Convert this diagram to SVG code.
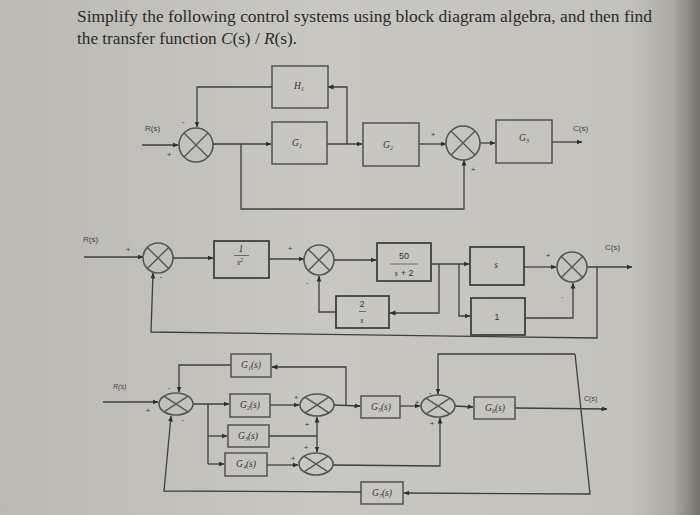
<svg xmlns="http://www.w3.org/2000/svg" width="700" height="515" viewBox="0 0 700 515">
<defs>
<linearGradient id="bg" x1="0" y1="0" x2="1" y2="0">
<stop offset="0" stop-color="#bbb9b4"/>
<stop offset="0.45" stop-color="#c9c7c2"/>
<stop offset="0.9" stop-color="#c4c2bd"/>
<stop offset="0.96" stop-color="#aba9a4"/>
<stop offset="1" stop-color="#76736f"/>
</linearGradient>
<marker id="ah" markerWidth="6" markerHeight="6" refX="5.5" refY="3" orient="auto" markerUnits="userSpaceOnUse">
<path d="M0,0.6 L6,3 L0,5.4 Z" fill="#2e2e2e"/>
</marker>
<style>
.ln{fill:none;stroke:#3e3e3e;stroke-width:1.3}
.ar{fill:none;stroke:#3e3e3e;stroke-width:1.3;marker-end:url(#ah)}
.bx{fill:none;stroke:#4a4a4a;stroke-width:1.4}
.bx2{fill:none;stroke:#404040;stroke-width:1.8}
.sm{fill:none;stroke:#555;stroke-width:1.6}
.sx{fill:none;stroke:#555;stroke-width:1.4}
.lb{font-family:"Liberation Sans",Arial,sans-serif;font-size:8px;fill:#404040}
.gl{font-family:"Liberation Serif","Times New Roman",serif;font-style:italic;font-size:9.5px;fill:#333;text-anchor:middle}
.nm{font-family:"Liberation Sans",Arial,sans-serif;font-size:9px;fill:#333;text-anchor:middle}
.sg{font-family:"Liberation Sans",Arial,sans-serif;font-size:8px;fill:#3a3a3a;text-anchor:middle}
.tt{font-family:"Liberation Serif","Times New Roman",serif;font-size:17px;fill:#2a2a2a}
</style>
</defs>
<rect x="0" y="0" width="700" height="515" fill="url(#bg)"/>

<g id="title">
<text class="tt" x="77" y="22" textLength="575" lengthAdjust="spacingAndGlyphs">Simplify the following control systems using block diagram algebra, and then find</text>
<text class="tt" x="77" y="44" textLength="220" lengthAdjust="spacingAndGlyphs">the transfer function <tspan font-style="italic">C</tspan>(s) / <tspan font-style="italic">R</tspan>(s).</text>
</g>

<!-- ===== Diagram 1 ===== -->
<g id="d1-connectors">
<path class="ar" d="M142,145 H178"/>
<path class="ar" d="M213,144 H271"/>
<path class="ar" d="M327,144 H362"/>
<path class="ar" d="M347,144 V87 H328"/>
<path class="ar" d="M272,87 H197 V127"/>
<path class="ar" d="M241,144 V209 H464 V160"/>
<path class="ar" d="M419,144 H446"/>
<path class="ar" d="M480,143 H495"/>
<path class="ar" d="M552,142 H582"/>
</g>
<g id="d1-sum1">
<circle class="sm" cx="196" cy="145" r="17"/>
<path class="sx" d="M184,133 L208,157 M184,157 L208,133"/>
<text class="sg" x="169" y="157">+</text>
<text class="sg" x="183" y="124">-</text>
</g>
<g id="d1-R"><text class="lb" x="145" y="131">R(s)</text></g>
<g id="d1-G1"><rect class="bx" x="272" y="122" width="55" height="42"/><text class="gl" x="297" y="146">G<tspan style="font-size:6px" dy="2">1</tspan></text></g>
<g id="d1-H1"><rect class="bx" x="272" y="66" width="56" height="42"/><text class="gl" x="299" y="89">H<tspan style="font-size:6px" dy="2">1</tspan></text></g>
<g id="d1-G2"><rect class="bx" x="363" y="123" width="56" height="43"/><text class="gl" x="388" y="148">G<tspan style="font-size:6px" dy="2">2</tspan></text></g>
<g id="d1-sum2">
<circle class="sm" cx="463" cy="143" r="17"/>
<path class="sx" d="M451,131 L475,155 M451,155 L475,131"/>
<text class="sg" x="433" y="137">+</text>
<text class="sg" x="473" y="172">+</text>
</g>
<g id="d1-G3"><rect class="bx" x="496" y="120" width="56" height="43"/><text class="gl" x="524" y="141">G<tspan style="font-size:6px" dy="2">3</tspan></text></g>
<g id="d1-C"><text class="lb" x="573" y="131">C(s)</text></g>

<!-- ===== Diagram 2 ===== -->
<g id="d2-connectors">
<path class="ar" d="M84,257 H143"/>
<path class="ar" d="M173,258 H213"/>
<path class="ar" d="M269,259 H304"/>
<path class="ar" d="M334,260 H376"/>
<path class="ar" d="M431,264 H469"/>
<path class="ar" d="M439,264 V313 H390"/>
<path class="ar" d="M336,312 H319 V276"/>
<path class="ar" d="M459,264 V316 H470"/>
<path class="ar" d="M524,267 H556"/>
<path class="ar" d="M525,318 H573 V283"/>
<path class="ar" d="M587,267 H632"/>
<path class="ar" d="M597,267 V338 L151,332 L153,273"/>
</g>
<g id="d2-R"><text class="lb" x="83" y="242">R(s)</text></g>
<g id="d2-sum1">
<circle class="sm" cx="158" cy="258" r="15"/>
<path class="sx" d="M147.4,247.4 L168.6,268.6 M147.4,268.6 L168.6,247.4"/>
<text class="sg" x="128" y="252">+</text>
<text class="sg" x="161" y="279">-</text>
</g>
<g id="d2-b1"><rect class="bx2" x="214" y="241" width="55" height="37"/>
<text class="gl" x="241" y="252" style="font-size:10px">1</text>
<path d="M234,255.5 H249" stroke="#555" stroke-width="0.8"/>
<text class="gl" x="240" y="265" style="font-size:8px">s<tspan style="font-size:6px" dy="-3">2</tspan></text></g>
<g id="d2-sum2">
<circle class="sm" cx="319" cy="260" r="15"/>
<path class="sx" d="M308.4,249.4 L329.6,270.6 M308.4,270.6 L329.6,249.4"/>
<text class="sg" x="290" y="251">+</text>
<text class="sg" x="307" y="285">-</text>
</g>
<g id="d2-b50"><rect class="bx2" x="377" y="243" width="54" height="38"/>
<text class="nm" x="404" y="259">50</text>
<path d="M390,264 H418" stroke="#555" stroke-width="0.8"/>
<text class="nm" x="404" y="276"><tspan style="font-style:italic;font-family:'Liberation Serif',serif">s</tspan> + 2</text></g>
<g id="d2-b2s"><rect class="bx2" x="336" y="296" width="53" height="32"/>
<text class="nm" x="362" y="307" style="font-size:8.5px">2</text>
<path d="M359,311.5 H366" stroke="#555" stroke-width="0.8"/>
<text class="gl" x="362" y="323" style="font-size:8.5px">s</text></g>
<g id="d2-bs"><rect class="bx2" x="470" y="247" width="54" height="38"/><text class="gl" x="496" y="268">s</text></g>
<g id="d2-b1b"><rect class="bx2" x="471" y="298" width="54" height="37"/><text class="nm" x="497" y="320">1</text></g>
<g id="d2-sum3">
<circle class="sm" cx="572" cy="267" r="15"/>
<path class="sx" d="M561.4,256.4 L582.6,277.6 M561.4,277.6 L582.6,256.4"/>
<text class="sg" x="548" y="258">+</text>
<text class="sg" x="562" y="299" style="fill:#777">-</text>
</g>
<g id="d2-C"><text class="lb" x="605" y="250">C(s)</text></g>

<!-- ===== Diagram 3 ===== -->
<g id="d3-connectors">
<path class="ar" d="M103,402 H158"/>
<path class="ar" d="M193,404 H229"/>
<path class="ln" d="M208,404 V464"/>
<path class="ar" d="M208,436 H227"/>
<path class="ar" d="M208,464 H224"/>
<path class="ar" d="M270,405 H299"/>
<path class="ln" d="M269,436 H317"/>
<path class="ar" d="M317,436 V417"/>
<path class="ar" d="M317,436 V452"/>
<path class="ar" d="M267,465 H298"/>
<path class="ar" d="M333,465 L440,466 V418"/>
<path class="ar" d="M334,405 L360,406"/>
<path class="ar" d="M346,405 V367 H272"/>
<path class="ar" d="M231,365 H179 V392"/>
<path class="ar" d="M400,406 H420"/>
<path class="ar" d="M455,406 L473,407"/>
<path class="ar" d="M515,408 L607,409"/>
<path class="ar" d="M575,354 H438 V394"/>
<path class="ar" d="M575,354 L590,494 L404,493"/>
<path class="ar" d="M361,492 L164,491 L171,416"/>
</g>
<g id="d3-R"><text class="lb" x="113" y="389" style="font-size:7px;font-style:italic">R(s)</text></g>
<g id="d3-sum1">
<ellipse class="sm" cx="176" cy="404" rx="17" ry="11"/>
<path class="sx" d="M164,396.2 L188,411.8 M164,411.8 L188,396.2"/>
<text class="sg" x="148" y="413">+</text>
<text class="sg" x="169" y="390">-</text>
<text class="sg" x="183" y="422">-</text>
</g>
<g id="d3-G1"><rect class="bx" x="231" y="354" width="40" height="23"/><text class="gl" x="251" y="368">G<tspan style="font-size:6px" dy="2">1</tspan><tspan dy="-2">(s)</tspan></text></g>
<g id="d3-G2"><rect class="bx" x="230" y="394" width="40" height="23"/><text class="gl" x="250" y="408">G<tspan style="font-size:6px" dy="2">2</tspan><tspan dy="-2">(s)</tspan></text></g>
<g id="d3-G3"><rect class="bx" x="228" y="425" width="41" height="22"/><text class="gl" x="248" y="439">G<tspan style="font-size:6px" dy="2">3</tspan><tspan dy="-2">(s)</tspan></text></g>
<g id="d3-G4"><rect class="bx" x="225" y="453" width="42" height="23"/><text class="gl" x="246" y="467">G<tspan style="font-size:6px" dy="2">4</tspan><tspan dy="-2">(s)</tspan></text></g>
<g id="d3-sum2">
<ellipse class="sm" cx="317" cy="405" rx="17" ry="11"/>
<path class="sx" d="M305,397.2 L329,412.8 M305,412.8 L329,397.2"/>
<text class="sg" x="296" y="400">+</text>
<text class="sg" x="307" y="427">+</text>
</g>
<g id="d3-sum3">
<ellipse class="sm" cx="316" cy="464" rx="17" ry="11"/>
<path class="sx" d="M304,456.2 L328,471.8 M304,471.8 L328,456.2"/>
<text class="sg" x="306" y="450">+</text>
<text class="sg" x="293" y="461">+</text>
</g>
<g id="d3-G5"><rect class="bx" x="361" y="396" width="39" height="22"/><text class="gl" x="381" y="410">G<tspan style="font-size:6px" dy="2">5</tspan><tspan dy="-2">(s)</tspan></text></g>
<g id="d3-sum4">
<ellipse class="sm" cx="438" cy="406" rx="17" ry="11"/>
<path class="sx" d="M426,398.2 L450,413.8 M426,413.8 L450,398.2"/>
<text class="sg" x="417" y="405">+</text>
<text class="sg" x="430" y="395">-</text>
<text class="sg" x="432" y="426">+</text>
</g>
<g id="d3-G6"><rect class="bx" x="474" y="397" width="41" height="22"/><text class="gl" x="495" y="411">G<tspan style="font-size:6px" dy="2">6</tspan><tspan dy="-2">(s)</tspan></text></g>
<g id="d3-G7"><rect class="bx" x="361" y="482" width="42" height="22"/><text class="gl" x="382" y="496">G<tspan style="font-size:6px" dy="2">7</tspan><tspan dy="-2">(s)</tspan></text></g>
<g id="d3-C"><text class="lb" x="584" y="401" style="font-size:7px">C(s)</text></g>
</svg>
